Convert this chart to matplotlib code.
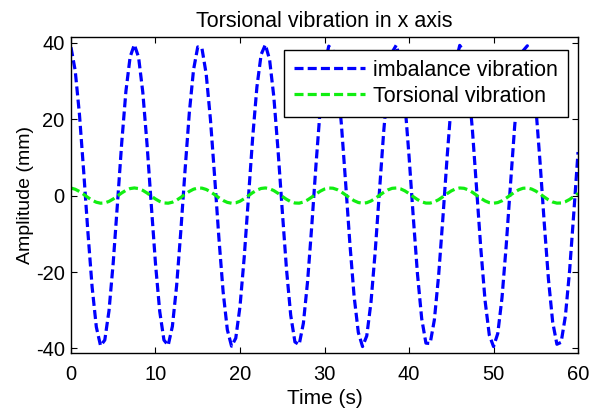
import numpy as np
import matplotlib.pyplot as plt

plt.rcParams['font.family'] = ['Liberation Sans', 'DejaVu Sans']
plt.rcParams['lines.scale_dashes'] = False
plt.rcParams['axes.unicode_minus'] = False

# amplitude values (mm), one sample every 0.5 s from 0 to 60 s
imbalance = [38.8, 32.7, 21.3, 6.4, -9.5, -23.9, -34.4, -39.3, -37.8, -30.1,
             -17.5, -2.1, 13.7, 27.3, 36.3, 39.5, 36.2, 27.0, 13.4, -2.4,
             -17.8, -30.3, -37.8, -39.2, -34.2, -23.6, -9.2, 6.7, 21.6, 32.9,
             38.9, 38.5, 31.8, 20.0, 4.9, -11.0, -25.1, -35.1, -39.4, -37.3,
             -29.0, -16.1, -0.5, 15.2, 28.4, 36.9, 39.5, 35.6, 25.9, 11.9,
             -3.9, -19.2, -31.3, -38.3, -39.0, -33.4, -22.4, -7.7, 8.3, 22.9,
             33.8, 39.1, 38.1, 30.9, 18.6, 3.3, -12.5, -26.3, -35.8, -39.5,
             -36.7, -27.9, -14.6, 1.1, 16.6, 29.5, 37.5, 39.4, 34.8, 24.6,
             10.4, -5.5, -20.5, -32.2, -38.6, -38.7, -32.5, -21.0, -6.1, 9.8,
             24.2, 34.6, 39.3, 37.6, 29.9, 17.2, 1.7, -14.0, -27.5, -36.5,
             -39.5, -36.1, -26.8, -13.1, 2.7, 18.1, 30.5, 37.9, 39.2, 34.1,
             23.4, 8.9, -7.1, -21.9, -33.1, -38.9, -38.4, -31.6, -19.7, -4.5,
             11.4]

torsional = [1.97, 1.66, 1.08, 0.33, -0.48, -1.21, -1.74, -1.99, -1.91, -1.52,
             -0.89, -0.10, 0.69, 1.38, 1.84, 2.00, 1.83, 1.37, 0.68, -0.12,
             -0.90, -1.53, -1.92, -1.99, -1.73, -1.20, -0.47, 0.34, 1.09, 1.67,
             1.97, 1.95, 1.61, 1.01, 0.25, -0.56, -1.27, -1.78, -2.00, -1.89,
             -1.47, -0.81, -0.02, 0.77, 1.44, 1.87, 2.00, 1.80, 1.31, 0.60,
             -0.20, -0.97, -1.58, -1.94, -1.98, -1.69, -1.13, -0.39, 0.42, 1.16,
             1.71, 1.98, 1.93, 1.56, 0.94, 0.17, -0.64, -1.33, -1.81, -2.00,
             -1.86, -1.41, -0.74, 0.06, 0.84, 1.49, 1.90, 1.99, 1.76, 1.25,
             0.53, -0.28, -1.04, -1.63, -1.96, -1.96, -1.65, -1.07, -0.31, 0.50,
             1.22, 1.75, 1.99, 1.91, 1.51, 0.87, 0.09, -0.71, -1.39, -1.85,
             -2.00, -1.83, -1.36, -0.66, 0.14, 0.91, 1.54, 1.92, 1.98, 1.72,
             1.18, 0.45, -0.36, -1.11, -1.68, -1.97, -1.94, -1.60, -1.00, -0.23,
             0.58]

time_s = np.linspace(0, 60, len(imbalance))

xticks = [0, 10, 20, 30, 40, 50, 60]
yticks = [-40, -20, 0, 20, 40]

fig = plt.figure(figsize=(5.99, 4.11), dpi=100)
ax = fig.add_axes([0.1185, 0.141, 0.8465, 0.769])

ax.plot(time_s, imbalance, color='#0000FF', linestyle='--', dashes=(6.5, 3),
        linewidth=2.3, label='imbalance vibration')
ax.plot(time_s, torsional, color='#11EE11', linestyle='--', dashes=(6.5, 3),
        linewidth=2.3, label='Torsional vibration')

ax.set_xlim(0, 60)
ax.set_ylim(-41.2, 41.5)
ax.set_xticks(xticks)
ax.set_yticks(yticks)
ax.tick_params(direction='in', top=True, right=True, labelsize=14.5, length=4)
ax.tick_params(axis='x', pad=8.5)
ax.tick_params(axis='y', pad=4.5)
for s in ax.spines.values():
    s.set_linewidth(1)

ax.set_title('Torsional vibration in x axis', fontsize=15.5, pad=7)
ax.set_xlabel('Time (s)', fontsize=15, labelpad=4)
ax.set_ylabel('Amplitude (mm)', fontsize=14, labelpad=1)

leg = ax.legend(loc='upper right', bbox_to_anchor=(0.98, 0.959), borderaxespad=0,
                fontsize=15.5, handlelength=3.3, handletextpad=0.4, fancybox=False,
                framealpha=1, edgecolor='black', borderpad=0.45, labelspacing=0.25)
leg.get_frame().set_linewidth(1)

fig.savefig('out.png', dpi=100)
